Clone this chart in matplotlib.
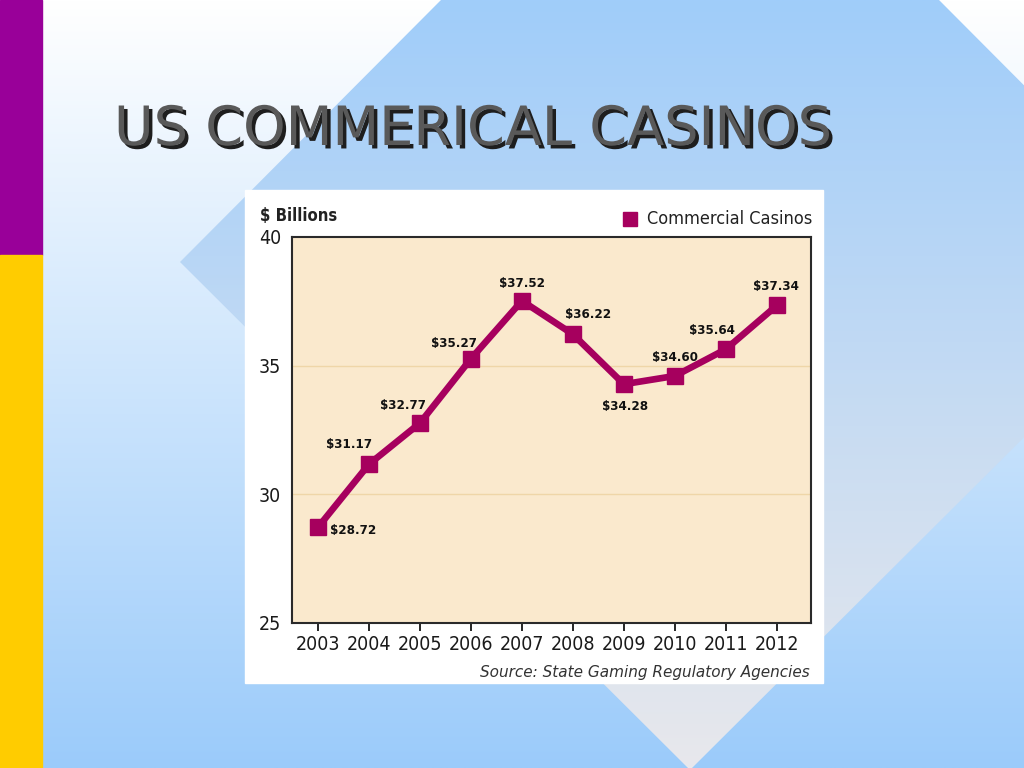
import numpy as np
import matplotlib.pyplot as plt
import matplotlib.patheffects as pe
from matplotlib.patches import Polygon, Rectangle
from matplotlib import font_manager

years = [2003, 2004, 2005, 2006, 2007, 2008, 2009, 2010, 2011, 2012]
revenue = [28.72, 31.17, 32.77, 35.27, 37.52, 36.22, 34.28, 34.60, 35.64, 37.34]
point_labels = ['$28.72', '$31.17', '$32.77', '$35.27', '$37.52',
                '$36.22', '$34.28', '$34.60', '$35.64', '$37.34']
# label offsets in pixels from each point
label_offsets = [(35, -3), (-20, 20), (-17, 18), (-17, 15), (0, 17),
                 (15, 20), (1, -22), (0, 18), (-14, 19), (-1, 19)]
yticks = [25, 30, 35, 40]
title = 'US COMMERICAL CASINOS'
series_name = 'Commercial Casinos'
unit_label = '$ Billions'
source = 'Source: State Gaming Regulatory Agencies'

# narrow face if one is installed
cond = font_manager.FontProperties(family='DejaVu Sans', stretch='condensed')
cond_file = font_manager.findfont(cond)
is_cond = 'Condensed' in cond_file

line_c = '#a6005e'
W, H = 1024, 768
fig = plt.figure(figsize=(10.24, 7.68), dpi=100)

# slide background
bg = fig.add_axes([0, 0, 1, 1])
bg.set_xlim(0, W)
bg.set_ylim(H, 0)
bg.axis('off')

grad = np.linspace(0, 1, 256)[:, None]
top = np.array([1.0, 1.0, 1.0])
bot = np.array([155, 203, 250]) / 255
img = top + (bot - top) * grad[..., None] * np.ones((1, 2, 1))
bg.imshow(img, extent=[0, W, H, 0], aspect='auto', zorder=0)

# big diamond with reversed gradient
diamond = Polygon([(690, -250), (1200, 262), (690, 770), (180, 262)], closed=True,
                  facecolor='none', edgecolor='none')
bg.add_patch(diamond)
dtop = np.array([160, 205, 250]) / 255
dbot = np.array([232, 232, 236]) / 255
dimg = dtop + (dbot - dtop) * grad[..., None] * np.ones((1, 2, 1))
im2 = bg.imshow(dimg, extent=[0, W, H, 0], aspect='auto', zorder=1)
im2.set_clip_path(diamond)

# left colour bar
bg.add_patch(Rectangle((0, 0), 42, 255, color='#990099', zorder=2))
bg.add_patch(Rectangle((0, 255), 42, H - 255, color='#ffcc00', zorder=2))

# title with shadow
bg.text(114, 130, title, fontsize=39, color='#595959', family='DejaVu Sans',
        va='center', ha='left', zorder=4,
        path_effects=[pe.SimplePatchShadow(offset=(2.5, -2.5), shadow_rgbFace='#1e1e1e', alpha=1),
                      pe.Normal()])

tick_size = 14 if is_cond else 12
lab_size = 9.5 if is_cond else 8

# white chart panel
bg.add_patch(Rectangle((245, 190), 823 - 245, 683 - 190, color='white', zorder=3))
bg.text(260, 216, unit_label, fontproperties=cond, fontsize=tick_size - 2, fontweight='bold',
        color='#222222', va='center', ha='left', zorder=4)
bg.add_patch(Rectangle((623, 212), 14, 14, color=line_c, zorder=4))
bg.text(812, 219, series_name, fontproperties=cond, fontsize=tick_size - 1, color='#222222',
        va='center', ha='right', zorder=4)
bg.text(810, 673, source, fontsize=11, family='DejaVu Sans', style='italic',
        color='#333333', va='center', ha='right', zorder=4)

# plot area
ax = fig.add_axes([292 / W, (H - 623) / H, (811 - 292) / W, (623 - 237) / H])
ax.set_facecolor('#fae9cd')
ax.set_xlim(2002.49, 2012.67)
ax.set_ylim(25, 40)
ax.set_yticks(yticks)
ax.set_xticks(years)
ax.tick_params(axis='y', length=0, pad=8)
ax.tick_params(axis='x', length=6, width=1.2, direction='out', pad=3)
for lab in ax.get_xticklabels() + ax.get_yticklabels():
    lab.set_fontproperties(cond)
    lab.set_fontsize(tick_size)
    lab.set_color('#1a1a1a')
for y in [30, 35]:
    ax.axhline(y, color='#efd6a8', lw=1, zorder=1)
for s in ax.spines.values():
    s.set_color('#2a2a2a')
    s.set_linewidth(1.5)

ax.plot(years, revenue, color=line_c, lw=4.8, marker='s', ms=11, zorder=3)
for x, y, t, off in zip(years, revenue, point_labels, label_offsets):
    ax.annotate(t, (x, y), xytext=off, textcoords='offset pixels', ha='center', va='center',
                fontproperties=cond, fontsize=lab_size, fontweight='bold',
                color='#111111', zorder=4)

fig.savefig('out.png', dpi=100)
